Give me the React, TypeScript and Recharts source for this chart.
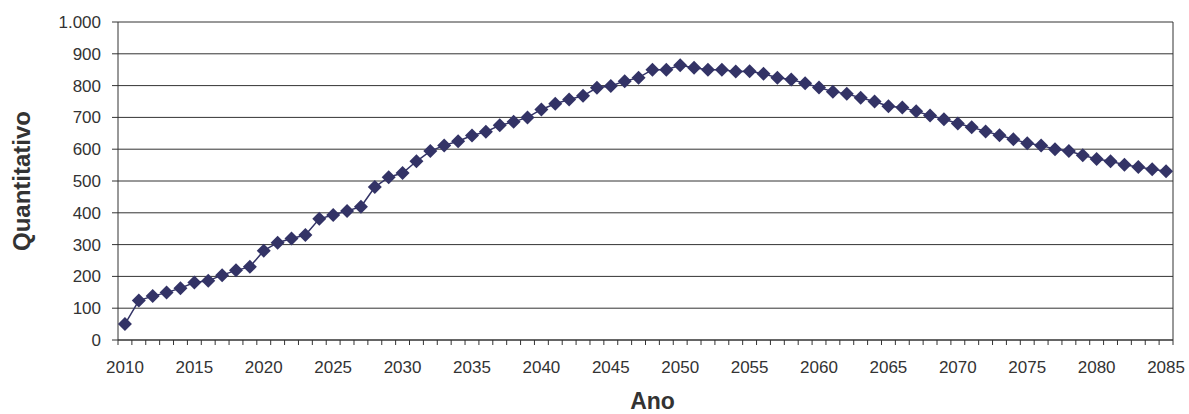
import { LineChart, Line, XAxis, YAxis, CartesianGrid } from 'recharts'

const years = [
  2010, 2011, 2012, 2013, 2014, 2015, 2016, 2017, 2018, 2019,
  2020, 2021, 2022, 2023, 2024, 2025, 2026, 2027, 2028, 2029,
  2030, 2031, 2032, 2033, 2034, 2035, 2036, 2037, 2038, 2039,
  2040, 2041, 2042, 2043, 2044, 2045, 2046, 2047, 2048, 2049,
  2050, 2051, 2052, 2053, 2054, 2055, 2056, 2057, 2058, 2059,
  2060, 2061, 2062, 2063, 2064, 2065, 2066, 2067, 2068, 2069,
  2070, 2071, 2072, 2073, 2074, 2075, 2076, 2077, 2078, 2079,
  2080, 2081, 2082, 2083, 2084, 2085,
]

const quantitativo = [
  50, 124, 138, 149, 163, 181, 186, 204, 219, 230,
  281, 306, 319, 330, 381, 393, 406, 419, 481, 512,
  525, 562, 594, 612, 625, 643, 655, 675, 686, 700,
  725, 743, 756, 768, 793, 799, 814, 825, 850, 850,
  864, 856, 850, 850, 844, 845, 837, 825, 819, 807,
  794, 781, 774, 762, 750, 735, 731, 719, 706, 694,
  681, 669, 656, 644, 631, 619, 612, 600, 594, 581,
  569, 562, 551, 544, 537, 531,
]

const yearLabels = [2010, 2015, 2020, 2025, 2030, 2035, 2040, 2045, 2050, 2055, 2060, 2065, 2070, 2075, 2080, 2085]
const valueTicks = [0, 100, 200, 300, 400, 500, 600, 700, 800, 900, 1000]

// tick marks sit between the years, like a category axis
const yearEdges = [...years.map((y) => y - 0.5), years[years.length - 1] + 0.5]
const xDomain = [yearEdges[0], yearEdges[yearEdges.length - 1]]

const data = years.map((ano, i) => ({ ano, valor: quantitativo[i] }))

const ink = '#333333'
const navy = '#333366'
const font = '"Liberation Sans", Arial, sans-serif'

const formatValue = (v: number) => v.toString().replace(/\B(?=(\d{3})+(?!\d))/g, '.')

const Diamond = (props: any) => {
  const { cx, cy } = props
  if (cx == null || cy == null) return null
  const r = 7
  return <path d={`M${cx},${cy - r}L${cx + r},${cy}L${cx},${cy + r}L${cx - r},${cy}Z`} fill={navy} />
}

export default function App() {
  return (
    <div style={{ width: 1189, height: 414, background: '#fff', fontFamily: font }}>
      <style>{'body{margin:0}'}</style>
      <LineChart width={1189} height={414} data={data} margin={{ top: 22, right: 15, left: 0, bottom: 0 }}>
        <CartesianGrid vertical={false} stroke={ink} strokeWidth={1} />
        <XAxis
          xAxisId="a"
          dataKey="ano"
          type="number"
          domain={xDomain}
          ticks={yearEdges}
          height={1}
          tickSize={5}
          tickFormatter={() => ''}
          tick={{ fontSize: 1 }}
          stroke={ink}
          interval={0}
        />
        <XAxis
          xAxisId="b"
          dataKey="ano"
          type="number"
          domain={xDomain}
          ticks={yearLabels}
          height={73}
          axisLine={false}
          tickLine={false}
          tickSize={5}
          tickMargin={15}
          interval={0}
          tick={{ fill: ink, fontSize: 17, fontFamily: font }}
          label={{ value: 'Ano', position: 'insideBottom', offset: 5, dx: 7, fill: ink, fontSize: 23, fontWeight: 'bold', fontFamily: font }}
        />
        <YAxis
          domain={[0, 1000]}
          ticks={valueTicks}
          width={118}
          interval={0}
          stroke={ink}
          tickSize={6}
          tickMargin={11}
          tickFormatter={formatValue}
          tick={{ fill: ink, fontSize: 17, fontFamily: font }}
          label={{ value: 'Quantitativo', angle: -90, position: 'insideLeft', offset: 21, fill: ink, fontSize: 24, fontWeight: 'bold', fontFamily: font, style: { textAnchor: 'middle' } }}
        />
        <YAxis yAxisId="right" orientation="right" width={1} tick={false} tickLine={false} stroke={ink} />
        <Line
          xAxisId="b"
          type="linear"
          dataKey="valor"
          stroke={navy}
          strokeWidth={1.5}
          dot={<Diamond />}
          activeDot={false}
          isAnimationActive={false}
        />
      </LineChart>
    </div>
  )
}
